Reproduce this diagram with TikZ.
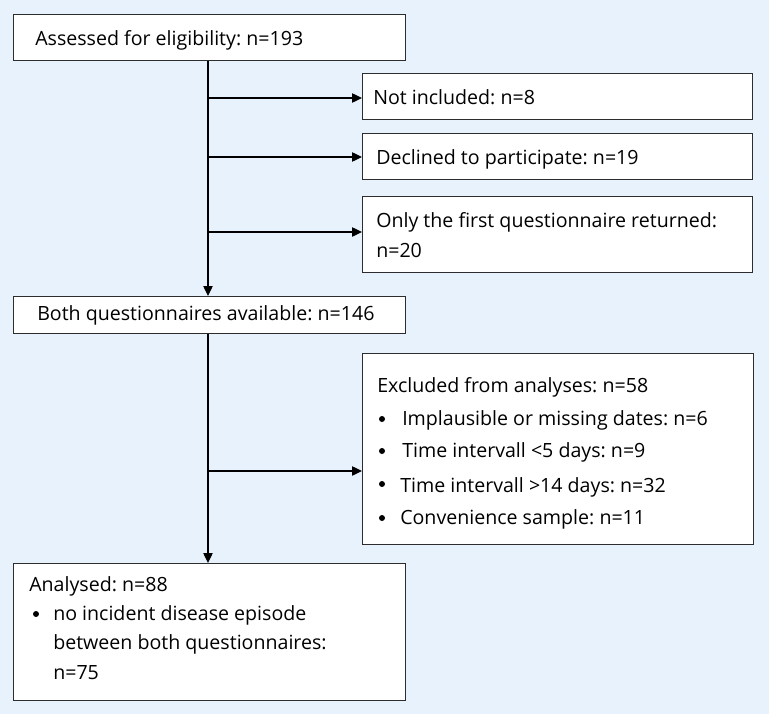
\documentclass[tikz,border=0pt]{standalone}
\usepackage{fontspec}
\setmainfont{Open Sans}
\frenchspacing
\usetikzlibrary{arrows.meta}
\definecolor{bgblue}{RGB}{231,242,253}
\definecolor{edge}{RGB}{45,45,45}
\tikzset{
  box/.style={draw=edge, line width=1.1pt, fill=white, inner sep=0pt, anchor=north west},
  txt/.style={anchor=base west, inner sep=0pt, font=\frenchspacing\fontsize{14.7}{17}\selectfont},
  conn/.style={draw=black, line width=1pt},
  arr/.style={conn, -{Triangle[length=7.5pt,width=7pt]}},
  dot/.style={circle, fill=black, inner sep=0pt, minimum size=4.5pt}
}
\begin{document}
\begin{tikzpicture}[x=0.75pt,y=-0.75pt]
\fill[bgblue] (0,0) rectangle (769,714);
\useasboundingbox (0,0) rectangle (769,714);
% boxes
\node[box, minimum width=392*0.75pt, minimum height=46*0.75pt] (b1) at (13,14) {};
\node[box, minimum width=390*0.75pt, minimum height=46*0.75pt] (n1) at (362,73) {};
\node[box, minimum width=390*0.75pt, minimum height=46*0.75pt] (n2) at (362,133) {};
\node[box, minimum width=390*0.75pt, minimum height=76*0.75pt] (n3) at (362,196) {};
\node[box, minimum width=392*0.75pt, minimum height=37*0.75pt] (b2) at (13,296) {};
\node[box, minimum width=391*0.75pt, minimum height=191*0.75pt] (ex) at (362,353) {};
\node[box, minimum width=392*0.75pt, minimum height=137*0.75pt] (b3) at (13,563) {};
% texts
\node[txt] (t1) at (35,45) {Assessed for eligibility: n=193};
\node[txt] (t2) at (373,104) {Not included: n=8};
\node[txt] (t3) at (376,164) {Declined to participate: n=19};
\node[txt] (t4) at (376,227) {Only the first questionnaire returned:};
\node[txt] (t5) at (376,257) {n=20};
\node[txt] (t6) at (37,320) {Both questionnaires available: n=146};
\node[txt] (t7) at (377,392) {Excluded from analyses: n=58};
\node[dot] (d1) at (382,419) {};
\node[txt] (t8) at (402,425) {Implausible or missing dates: n=6};
\node[dot] (d2) at (382,451) {};
\node[txt] (t9) at (402,457) {Time intervall <5 days: n=9};
\node[dot] (d3) at (382,484) {};
\node[txt] (t10) at (400,492) {Time intervall >14 days: n=32};
\node[dot] (d4) at (382,518) {};
\node[txt] (t11) at (400,524) {Convenience sample: n=11};
\node[txt] (t12) at (29,591) {Analysed: n=88};
\node[dot] (d5) at (36,614) {};
\node[txt] (t13) at (53,620) {no incident disease episode};
\node[txt] (t14) at (53,649) {between both questionnaires:};
\node[txt] (t15) at (53,679) {n=75};
% connectors
\coordinate (c1) at (208,98);
\coordinate (c2) at (208,157);
\coordinate (c3) at (208,232);
\coordinate (c4) at (208,471);
\draw[arr] (b1.south -| c1) -- (c1 |- b2.north);
\draw[arr] (c1) -- (c1 -| n1.west);
\draw[arr] (c2) -- (c2 -| n2.west);
\draw[arr] (c3) -- (c3 -| n3.west);
\draw[arr] (b2.south -| c4) -- (c4 |- b3.north);
\draw[arr] (c4) -- (c4 -| ex.west);
\end{tikzpicture}
\end{document}
